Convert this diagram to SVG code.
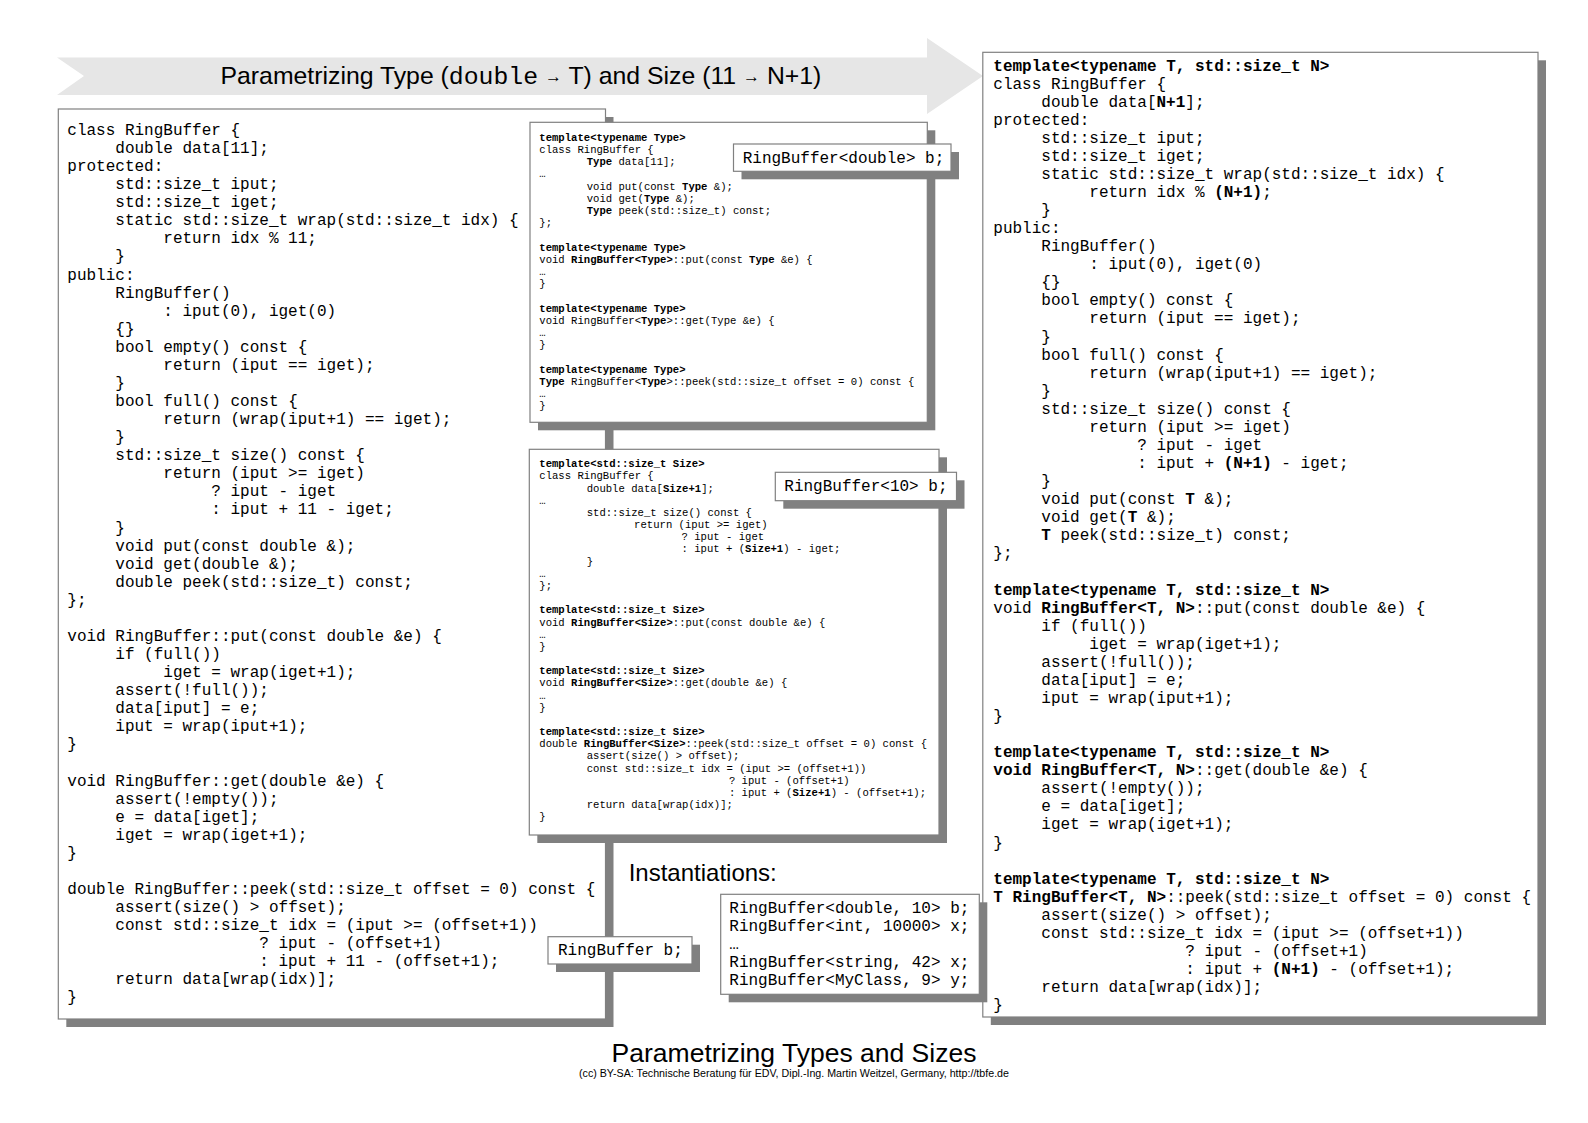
<svg xmlns="http://www.w3.org/2000/svg" width="1588" height="1123" viewBox="0 0 1588 1123">
<style>
.box{fill:#fff;stroke:#808080;stroke-width:1.2}
.sh{fill:#808080}
.c{font-family:"Liberation Mono","DejaVu Sans Mono",monospace;font-size:16px;fill:#000}
.s{font-family:"Liberation Mono","DejaVu Sans Mono",monospace;font-size:10.6px;fill:#000}
.b{font-weight:bold}
.sans{font-family:"Liberation Sans",Arial,sans-serif;fill:#000}
.ar{font-size:17px}
</style>
<rect width="1588" height="1123" fill="#fff"/>
<g id="arrow">
<polygon points="57,57.5 927,57.5 927,38 983,76 927,114 927,95 57,95 84,76" fill="#e6e6e6"/>
<text class="sans" x="220.5" y="84" font-size="24.8">Parametrizing Type (<tspan font-family="Liberation Mono, monospace">double</tspan> <tspan class="ar" dy="-2">→</tspan><tspan dy="2"> T) and Size (11 </tspan><tspan class="ar" dy="-2">→</tspan><tspan dy="2"> N+1)</tspan></text>
</g>
<g id="plain-class">
<rect class="sh" x="66.3" y="117" width="547.2" height="910"/>
<rect class="box" x="58.3" y="109" width="547.2" height="910"/>
<text class="c">
<tspan x="67.3" y="135">class RingBuffer {</tspan>
<tspan x="115.3" y="153.07">double data[11];</tspan>
<tspan x="67.3" y="171.14">protected:</tspan>
<tspan x="115.3" y="189.21">std::size_t iput;</tspan>
<tspan x="115.3" y="207.28">std::size_t iget;</tspan>
<tspan x="115.3" y="225.35">static std::size_t wrap(std::size_t idx) {</tspan>
<tspan x="163.3" y="243.42">return idx % 11;</tspan>
<tspan x="115.3" y="261.49">}</tspan>
<tspan x="67.3" y="279.56">public:</tspan>
<tspan x="115.3" y="297.63">RingBuffer()</tspan>
<tspan x="163.3" y="315.7">: iput(0), iget(0)</tspan>
<tspan x="115.3" y="333.77">{}</tspan>
<tspan x="115.3" y="351.84">bool empty() const {</tspan>
<tspan x="163.3" y="369.91">return (iput == iget);</tspan>
<tspan x="115.3" y="387.98">}</tspan>
<tspan x="115.3" y="406.05">bool full() const {</tspan>
<tspan x="163.3" y="424.12">return (wrap(iput+1) == iget);</tspan>
<tspan x="115.3" y="442.19">}</tspan>
<tspan x="115.3" y="460.26">std::size_t size() const {</tspan>
<tspan x="163.3" y="478.33">return (iput &gt;= iget)</tspan>
<tspan x="211.3" y="496.4">? iput - iget</tspan>
<tspan x="211.3" y="514.47">: iput + 11 - iget;</tspan>
<tspan x="115.3" y="532.54">}</tspan>
<tspan x="115.3" y="550.61">void put(const double &amp;);</tspan>
<tspan x="115.3" y="568.68">void get(double &amp;);</tspan>
<tspan x="115.3" y="586.75">double peek(std::size_t) const;</tspan>
<tspan x="67.3" y="604.82">};</tspan>
<tspan x="67.3" y="640.96">void RingBuffer::put(const double &amp;e) {</tspan>
<tspan x="115.3" y="659.03">if (full())</tspan>
<tspan x="163.3" y="677.1">iget = wrap(iget+1);</tspan>
<tspan x="115.3" y="695.17">assert(!full());</tspan>
<tspan x="115.3" y="713.24">data[iput] = e;</tspan>
<tspan x="115.3" y="731.31">iput = wrap(iput+1);</tspan>
<tspan x="67.3" y="749.38">}</tspan>
<tspan x="67.3" y="785.52">void RingBuffer::get(double &amp;e) {</tspan>
<tspan x="115.3" y="803.59">assert(!empty());</tspan>
<tspan x="115.3" y="821.66">e = data[iget];</tspan>
<tspan x="115.3" y="839.73">iget = wrap(iget+1);</tspan>
<tspan x="67.3" y="857.8">}</tspan>
<tspan x="67.3" y="893.94">double RingBuffer::peek(std::size_t offset = 0) const {</tspan>
<tspan x="115.3" y="912.01">assert(size() &gt; offset);</tspan>
<tspan x="115.3" y="930.08">const std::size_t idx = (iput &gt;= (offset+1))</tspan>
<tspan x="259.3" y="948.15">? iput - (offset+1)</tspan>
<tspan x="259.3" y="966.22">: iput + 11 - (offset+1);</tspan>
<tspan x="115.3" y="984.29">return data[wrap(idx)];</tspan>
<tspan x="67.3" y="1002.36">}</tspan>
</text>
</g>
<g id="template-class">
<rect class="sh" x="990.8" y="60.3" width="555.2" height="964.7"/>
<rect class="box" x="982.8" y="52.3" width="555.2" height="964.7"/>
<text class="c">
<tspan x="993.3" y="70.5" class="b">template&lt;typename T, std::size_t N&gt;</tspan>
<tspan x="993.3" y="88.57">class RingBuffer {</tspan>
<tspan x="1041.3" y="106.64">double data[<tspan class="b">N+1</tspan>];</tspan>
<tspan x="993.3" y="124.71">protected:</tspan>
<tspan x="1041.3" y="142.78">std::size_t iput;</tspan>
<tspan x="1041.3" y="160.85">std::size_t iget;</tspan>
<tspan x="1041.3" y="178.92">static std::size_t wrap(std::size_t idx) {</tspan>
<tspan x="1089.3" y="196.99">return idx % <tspan class="b">(N+1)</tspan>;</tspan>
<tspan x="1041.3" y="215.06">}</tspan>
<tspan x="993.3" y="233.13">public:</tspan>
<tspan x="1041.3" y="251.2">RingBuffer()</tspan>
<tspan x="1089.3" y="269.27">: iput(0), iget(0)</tspan>
<tspan x="1041.3" y="287.34">{}</tspan>
<tspan x="1041.3" y="305.41">bool empty() const {</tspan>
<tspan x="1089.3" y="323.48">return (iput == iget);</tspan>
<tspan x="1041.3" y="341.55">}</tspan>
<tspan x="1041.3" y="359.62">bool full() const {</tspan>
<tspan x="1089.3" y="377.69">return (wrap(iput+1) == iget);</tspan>
<tspan x="1041.3" y="395.76">}</tspan>
<tspan x="1041.3" y="413.83">std::size_t size() const {</tspan>
<tspan x="1089.3" y="431.9">return (iput &gt;= iget)</tspan>
<tspan x="1137.3" y="449.97">? iput - iget</tspan>
<tspan x="1137.3" y="468.04">: iput + <tspan class="b">(N+1)</tspan> - iget;</tspan>
<tspan x="1041.3" y="486.11">}</tspan>
<tspan x="1041.3" y="504.18">void put(const <tspan class="b">T</tspan> &amp;);</tspan>
<tspan x="1041.3" y="522.25">void get(<tspan class="b">T</tspan> &amp;);</tspan>
<tspan x="1041.3" y="540.32"><tspan class="b">T</tspan> peek(std::size_t) const;</tspan>
<tspan x="993.3" y="558.39">};</tspan>
<tspan x="993.3" y="594.53" class="b">template&lt;typename T, std::size_t N&gt;</tspan>
<tspan x="993.3" y="612.6">void <tspan class="b">RingBuffer&lt;T, N&gt;</tspan>::put(const double &amp;e) {</tspan>
<tspan x="1041.3" y="630.67">if (full())</tspan>
<tspan x="1089.3" y="648.74">iget = wrap(iget+1);</tspan>
<tspan x="1041.3" y="666.81">assert(!full());</tspan>
<tspan x="1041.3" y="684.88">data[iput] = e;</tspan>
<tspan x="1041.3" y="702.95">iput = wrap(iput+1);</tspan>
<tspan x="993.3" y="721.02">}</tspan>
<tspan x="993.3" y="757.16" class="b">template&lt;typename T, std::size_t N&gt;</tspan>
<tspan x="993.3" y="775.23"><tspan class="b">void RingBuffer&lt;T, N&gt;</tspan>::get(double &amp;e) {</tspan>
<tspan x="1041.3" y="793.3">assert(!empty());</tspan>
<tspan x="1041.3" y="811.37">e = data[iget];</tspan>
<tspan x="1041.3" y="829.44">iget = wrap(iget+1);</tspan>
<tspan x="993.3" y="847.51">}</tspan>
<tspan x="993.3" y="883.65" class="b">template&lt;typename T, std::size_t N&gt;</tspan>
<tspan x="993.3" y="901.72"><tspan class="b">T RingBuffer&lt;T, N&gt;</tspan>::peek(std::size_t offset = 0) const {</tspan>
<tspan x="1041.3" y="919.79">assert(size() &gt; offset);</tspan>
<tspan x="1041.3" y="937.86">const std::size_t idx = (iput &gt;= (offset+1))</tspan>
<tspan x="1185.3" y="955.93">? iput - (offset+1)</tspan>
<tspan x="1185.3" y="974">: iput + <tspan class="b">(N+1)</tspan> - (offset+1);</tspan>
<tspan x="1041.3" y="992.07">return data[wrap(idx)];</tspan>
<tspan x="993.3" y="1010.14">}</tspan>
</text>
</g>
<g id="type-template">
<rect class="sh" x="538" y="130.3" width="397.3" height="300"/>
<rect class="box" x="530" y="122.3" width="397.3" height="300"/>
<text class="s">
<tspan x="539.3" y="140.7" class="b">template&lt;typename Type&gt;</tspan>
<tspan x="539.3" y="152.9">class RingBuffer {</tspan>
<tspan x="586.7" y="165.1"><tspan class="b">Type</tspan> data[11];</tspan>
<tspan x="539.3" y="177.3">…</tspan>
<tspan x="586.7" y="189.5">void put(const <tspan class="b">Type</tspan> &amp;);</tspan>
<tspan x="586.7" y="201.7">void get(<tspan class="b">Type</tspan> &amp;);</tspan>
<tspan x="586.7" y="213.9"><tspan class="b">Type</tspan> peek(std::size_t) const;</tspan>
<tspan x="539.3" y="226.1">};</tspan>
<tspan x="539.3" y="250.5" class="b">template&lt;typename Type&gt;</tspan>
<tspan x="539.3" y="262.7">void <tspan class="b">RingBuffer&lt;Type&gt;</tspan>::put(const <tspan class="b">Type</tspan> &amp;e) {</tspan>
<tspan x="539.3" y="274.9">…</tspan>
<tspan x="539.3" y="287.1">}</tspan>
<tspan x="539.3" y="311.5" class="b">template&lt;typename Type&gt;</tspan>
<tspan x="539.3" y="323.7">void RingBuffer&lt;<tspan class="b">Type</tspan>&gt;::get(Type &amp;e) {</tspan>
<tspan x="539.3" y="335.9">…</tspan>
<tspan x="539.3" y="348.1">}</tspan>
<tspan x="539.3" y="372.5" class="b">template&lt;typename Type&gt;</tspan>
<tspan x="539.3" y="384.7"><tspan class="b">Type</tspan> RingBuffer&lt;<tspan class="b">Type</tspan>&gt;::peek(std::size_t offset = 0) const {</tspan>
<tspan x="539.3" y="396.9">…</tspan>
<tspan x="539.3" y="409.1">}</tspan>
</text>
</g>
<g id="label-double">
<rect class="sh" x="741.5" y="152" width="217.5" height="27.3"/>
<rect class="box" x="733.5" y="144" width="217.5" height="27.3"/>
<text class="c" x="742.7" y="162.5">RingBuffer&lt;double&gt; b;</text>
</g>
<g id="size-template">
<rect class="sh" x="537.3" y="457.3" width="409.7" height="385.7"/>
<rect class="box" x="529.3" y="449.3" width="409.7" height="385.7"/>
<text class="s">
<tspan x="539.3" y="467.3" class="b">template&lt;std::size_t Size&gt;</tspan>
<tspan x="539.3" y="479.47">class RingBuffer {</tspan>
<tspan x="586.7" y="491.64">double data[<tspan class="b">Size+1</tspan>];</tspan>
<tspan x="539.3" y="503.81">…</tspan>
<tspan x="586.7" y="515.98">std::size_t size() const {</tspan>
<tspan x="634.1" y="528.15">return (iput &gt;= iget)</tspan>
<tspan x="681.5" y="540.32">? iput - iget</tspan>
<tspan x="681.5" y="552.49">: iput + (<tspan class="b">Size+1</tspan>) - iget;</tspan>
<tspan x="586.7" y="564.66">}</tspan>
<tspan x="539.3" y="576.83">…</tspan>
<tspan x="539.3" y="589">};</tspan>
<tspan x="539.3" y="613.34" class="b">template&lt;std::size_t Size&gt;</tspan>
<tspan x="539.3" y="625.51">void <tspan class="b">RingBuffer&lt;Size&gt;</tspan>::put(const double &amp;e) {</tspan>
<tspan x="539.3" y="637.68">…</tspan>
<tspan x="539.3" y="649.85">}</tspan>
<tspan x="539.3" y="674.19" class="b">template&lt;std::size_t Size&gt;</tspan>
<tspan x="539.3" y="686.36">void <tspan class="b">RingBuffer&lt;Size&gt;</tspan>::get(double &amp;e) {</tspan>
<tspan x="539.3" y="698.53">…</tspan>
<tspan x="539.3" y="710.7">}</tspan>
<tspan x="539.3" y="735.04" class="b">template&lt;std::size_t Size&gt;</tspan>
<tspan x="539.3" y="747.21">double <tspan class="b">RingBuffer&lt;Size&gt;</tspan>::peek(std::size_t offset = 0) const {</tspan>
<tspan x="586.7" y="759.38">assert(size() &gt; offset);</tspan>
<tspan x="586.7" y="771.55">const std::size_t idx = (iput &gt;= (offset+1))</tspan>
<tspan x="728.9" y="783.72">? iput - (offset+1)</tspan>
<tspan x="728.9" y="795.89">: iput + (<tspan class="b">Size+1</tspan>) - (offset+1);</tspan>
<tspan x="586.7" y="808.06">return data[wrap(idx)];</tspan>
<tspan x="539.3" y="820.23">}</tspan>
</text>
</g>
<g id="label-size">
<rect class="sh" x="783.3" y="480.3" width="181.2" height="28.4"/>
<rect class="box" x="775.3" y="472.3" width="181.2" height="28.4"/>
<text class="c" x="784.3" y="491">RingBuffer&lt;10&gt; b;</text>
</g>
<g id="label-plain">
<rect class="sh" x="556" y="944.7" width="144" height="27.3"/>
<rect class="box" x="548" y="936.7" width="144" height="27.3"/>
<text class="c" x="558" y="955">RingBuffer b;</text>
</g>
<g id="instantiations">
<text class="sans" x="628.7" y="880.5" font-size="24">Instantiations:</text>
<rect class="sh" x="728.7" y="902.3" width="258.6" height="100"/>
<rect class="box" x="720.7" y="894.3" width="258.6" height="100"/>
<text class="c">
<tspan x="729.3" y="912.5">RingBuffer&lt;double, 10&gt; b;</tspan>
<tspan x="729.3" y="930.5">RingBuffer&lt;int, 10000&gt; x;</tspan>
<tspan x="729.3" y="948.5">…</tspan>
<tspan x="729.3" y="966.5">RingBuffer&lt;string, 42&gt; x;</tspan>
<tspan x="729.3" y="984.5">RingBuffer&lt;MyClass, 9&gt; y;</tspan>
</text>
</g>
<g id="footer">
<text class="sans" x="794" y="1062" font-size="26.5" text-anchor="middle">Parametrizing Types and Sizes</text>
<text class="sans" x="579" y="1076.5" font-size="10.5" textLength="430" lengthAdjust="spacingAndGlyphs">(cc) BY-SA: Technische Beratung für EDV, Dipl.-Ing. Martin Weitzel, Germany, http://tbfe.de</text>
</g>
</svg>
